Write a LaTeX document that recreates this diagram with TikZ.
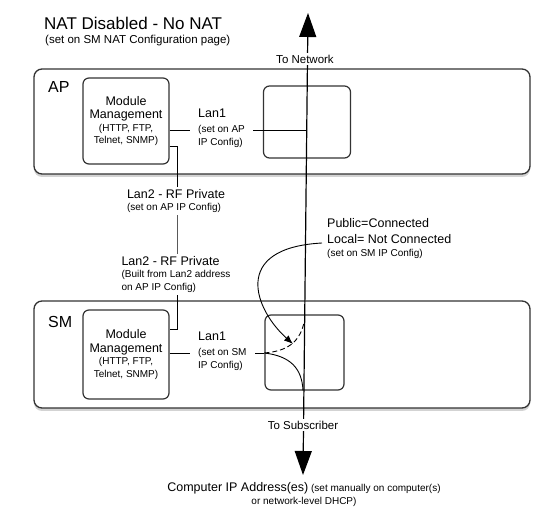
\documentclass[tikz,border=0pt]{standalone}
\usepackage{fontspec}
\setmainfont{Liberation Sans}
\usetikzlibrary{arrows.meta,shadows}

\newcommand\headfont{\fontsize{17}{20}\selectfont}
\newcommand\unitfont{\fontsize{16}{18}\selectfont}
\newcommand\lblfont{\fontsize{12.5}{15}\selectfont}
\newcommand\subfont{\fontsize{11.5}{13}\selectfont}
\newcommand\notefont{\fontsize{10}{12.5}\selectfont}

\tikzset{
  unit/.style={draw=black!80, line width=1.3pt, rounded corners=8pt, fill=white, inner sep=0pt,
    drop shadow={shadow xshift=0pt, shadow yshift=-3pt, opacity=0.35}},
  box/.style={draw=black!80, line width=1.2pt, rounded corners=6pt, inner sep=0pt,
    align=center, font=\notefont},
  txt/.style={inner sep=0pt, align=left, font=\notefont},
  blank/.style={fill=white, inner xsep=2pt, inner ysep=2pt},
  wire/.style={line width=0.9pt},
  bigarrow/.style={line width=1.2pt, {Triangle[width=17pt,length=24pt]}-{Triangle[width=17pt,length=24pt]}}
}

\begin{document}
\begin{tikzpicture}[x=1pt,y=-1pt]
\useasboundingbox (0,0) rectangle (555,513);

\node[txt, anchor=base west, font=\headfont] (title) at (44,30) {NAT Disabled - No NAT};
\node[txt, anchor=base west, font=\subfont] (subtitle) at (45,44) {(set on SM NAT Configuration page)};

% AP and SM
\node[unit, minimum width=496pt, minimum height=105pt] (ap) at (282,121.5) {};
\node[unit, minimum width=496pt, minimum height=107pt] (sm) at (282,354.5) {};
\node[txt, anchor=base west, font=\unitfont] (aplbl) at (48,93) {AP};
\node[txt, anchor=base west, font=\unitfont] (smlbl) at (48,328) {SM};

\node[box, minimum width=86pt, minimum height=86pt] (apmod) at (126,121)
  {{\lblfont Module}\\[1pt]{\lblfont Management}\\(HTTP, FTP,\\Telnet, SNMP)};
\node[box, minimum width=86pt, minimum height=89pt] (smmod) at (126,354.5)
  {{\lblfont Module}\\[1pt]{\lblfont Management}\\(HTTP, FTP,\\Telnet, SNMP)};

\node[box, minimum width=87pt, minimum height=72pt] (apbr) at (307,122) {};
\node[box, minimum width=79pt, minimum height=75pt] (smbr) at (304.5,352.5) {};

% network line
\coordinate (net) at (308,13);
\coordinate (sub) at (303,475);
\draw[bigarrow] (net) -- (sub);

\coordinate (apjoin) at (306.7,130);
\coordinate (smjoin) at (266,353);
\coordinate (smup) at (304.4,321);
\coordinate (swt) at (293,344);

% Lan1
\draw[wire] (apmod.east |- apjoin) -- (apjoin);
\draw[wire] (smmod.east |- smjoin) -- (smbr.west |- smjoin);
\draw[wire, dashed, dash pattern=on 5pt off 3pt] (smbr.west |- smjoin) .. controls (288,351) and (300,342) .. (smup);
\draw[wire] (smbr.west |- smjoin) .. controls (290,356) and (302,368) .. (sub |- smbr.south);

% Lan2
\draw[wire] (apmod.east |- 0,146) -| (177,240) |- (smmod.east |- 0,329);

\node[txt, blank, inner xsep=8pt, anchor=west] (aplan) at (190,128)
  {{\lblfont Lan1}\\[3pt](set on AP\\IP Config)};
\node[txt, blank, inner xsep=8pt, anchor=west] (smlan) at (190,351)
  {{\lblfont Lan1}\\[3pt](set on SM\\IP Config)};

\node[txt, blank] (rf) at (176,201) {{\lblfont Lan2 - RF Private}\\(set on AP IP Config)};
\node[txt, blank] (rfsm) at (176,274.5)
  {{\lblfont Lan2 - RF Private}\\(Built from Lan2 address\\on AP IP Config)};

\node[txt, anchor=west] (pub) at (327,239)
  {{\lblfont Public=Connected}\\[3pt]{\lblfont Local= Not Connected}\\[1pt](set on SM IP Config)};
\draw[wire, -{Latex[length=9pt,width=7pt]}] ([xshift=-5pt]pub.west |- 0,243) .. controls (230,248) and (255,310) .. (swt);

\node[blank, inner sep=2pt, font=\subfont] (tonet) at (305,59) {To Network};
\node[blank, inner sep=2pt, font=\subfont] (tosub) at (303,425) {To Subscriber};

\node[txt, align=center] (pc) at (304,494.5)
  {{\lblfont Computer IP Address(es)} (set manually on computer(s)\\or network-level DHCP)};

\end{tikzpicture}
\end{document}
